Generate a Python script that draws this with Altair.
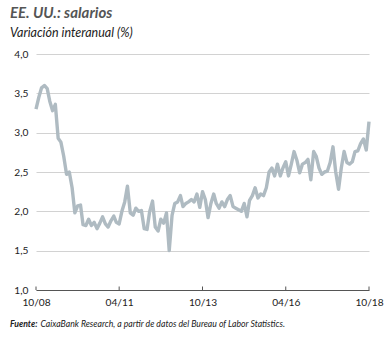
import altair as alt
import pandas as pd

# Monthly year-on-year wage growth, Oct 2008 - Oct 2018 (%)
values = [
    3.30, 3.45, 3.57, 3.60, 3.56, 3.40, 3.28, 3.36, 2.93, 2.88,
    2.70, 2.47, 2.50, 2.30, 1.98, 2.07, 2.08, 1.83, 1.82, 1.90,
    1.82, 1.86, 1.78, 1.85, 1.93, 1.84, 1.80, 1.88, 1.94, 1.86,
    1.84, 2.00, 2.12, 2.32, 1.98, 1.95, 2.04, 2.00, 2.01, 1.78,
    1.77, 2.00, 2.13, 1.80, 1.75, 1.90, 1.85, 1.98, 1.50, 1.95,
    2.10, 2.12, 2.20, 2.06, 2.10, 2.12, 2.15, 2.12, 2.22, 2.05,
    2.25, 2.15, 1.92, 2.10, 2.22, 2.10, 2.04, 2.12, 2.06, 2.15,
    2.20, 2.06, 2.04, 2.02, 2.00, 2.10, 1.93, 2.14, 2.20, 2.30,
    2.17, 2.22, 2.20, 2.30, 2.50, 2.55, 2.45, 2.60, 2.45, 2.55,
    2.63, 2.45, 2.60, 2.76, 2.65, 2.49, 2.60, 2.62, 2.66, 2.40,
    2.76, 2.70, 2.55, 2.47, 2.50, 2.51, 2.62, 2.82, 2.50, 2.28,
    2.55, 2.76, 2.62, 2.60, 2.63, 2.76, 2.77, 2.86, 2.92, 2.78,
    3.14,
]
start_month = "2008-10-01"
tick_dates = ["2008-10-01", "2011-04-01", "2013-10-01", "2016-04-01", "2018-10-01"]
tick_labels = ["10/08", "04/11", "10/13", "04/16", "10/18"]
y_ticks = [1.0, 1.5, 2.0, 2.5, 3.0, 3.5, 4.0]

title_text = "EE. UU.: salarios"
subtitle_text = "Variación interanual (%)"
source_bold = "Fuente:"
source_rest = "CaixaBank Research, a partir de datos del Bureau of Labor Statistics."

dates = pd.date_range(start_month, periods=len(values), freq="MS")
df = pd.DataFrame({"date": dates.strftime("%Y-%m-%d"), "value": values})
ticks_df = pd.DataFrame({"date": tick_dates, "label": tick_labels})

def ms(d):
    return int(pd.Timestamp(d, tz="UTC").value // 10**6)

W, H = 333, 236
FONT = "Lato"

xscale = alt.Scale(type="utc", domain=[ms(tick_dates[0]), ms(tick_dates[-1])])
yscale = alt.Scale(domain=[1.0, 4.0])

line = alt.Chart(df).mark_line(color="#afbbc2", strokeWidth=3.4, strokeJoin="round").encode(
    x=alt.X("date:T", scale=xscale,
            axis=alt.Axis(values=[ms(d) for d in tick_dates],
                          labelExpr="utcFormat(datum.value, '%m/%y')",
                          title=None, grid=False, ticks=False, domain=True,
                          domainColor="#555555", domainWidth=1,
                          labelFont=FONT, labelFontSize=10.2, labelColor="#222222",
                          labelPadding=7, labelFlush=False)),
    y=alt.Y("value:Q", scale=yscale,
            axis=alt.Axis(values=y_ticks,
                          labelExpr="replace(format(datum.value, '.1f'), '.', ',')",
                          title=None, grid=True, gridColor="#d2d2d2", gridWidth=1,
                          ticks=False, domain=False,
                          labelFont=FONT, labelFontSize=10.2, labelColor="#222222",
                          labelPadding=8)),
)

tickmarks = alt.Chart(ticks_df).mark_rule(color="#555555", strokeWidth=1).encode(
    x=alt.X("date:T", scale=xscale),
    y=alt.value(H - 3.5),
    y2=alt.value(H),
)

one = pd.DataFrame({"a": [0]})

def txt(text, x, y, size, weight, color, style="italic"):
    return alt.Chart(one).mark_text(
        text=text, align="left", baseline="alphabetic", font=FONT,
        fontSize=size, fontWeight=weight, fontStyle=style, color=color,
    ).encode(x=alt.value(x), y=alt.value(y))

title = txt(title_text, -26, -36, 15, "bold", "#555555")
subtitle = txt(subtitle_text, -26, -17, 12.5, "normal", "#222222")
src1 = txt(source_bold, -26, 273, 8.7, "bold", "#222222")
src2 = txt(source_rest, 4.5, 273, 8.7, "normal", "#222222")

chart = alt.layer(line, tickmarks, title, subtitle, src1, src2).properties(
    width=W, height=H,
    autosize=alt.AutoSizeParams(type="none"),
    padding={"left": 36, "top": 54, "right": 21, "bottom": 48},
    background="white",
).configure_view(stroke=None)

chart.save("out.html", embed_options={"renderer": "svg", "actions": False})
